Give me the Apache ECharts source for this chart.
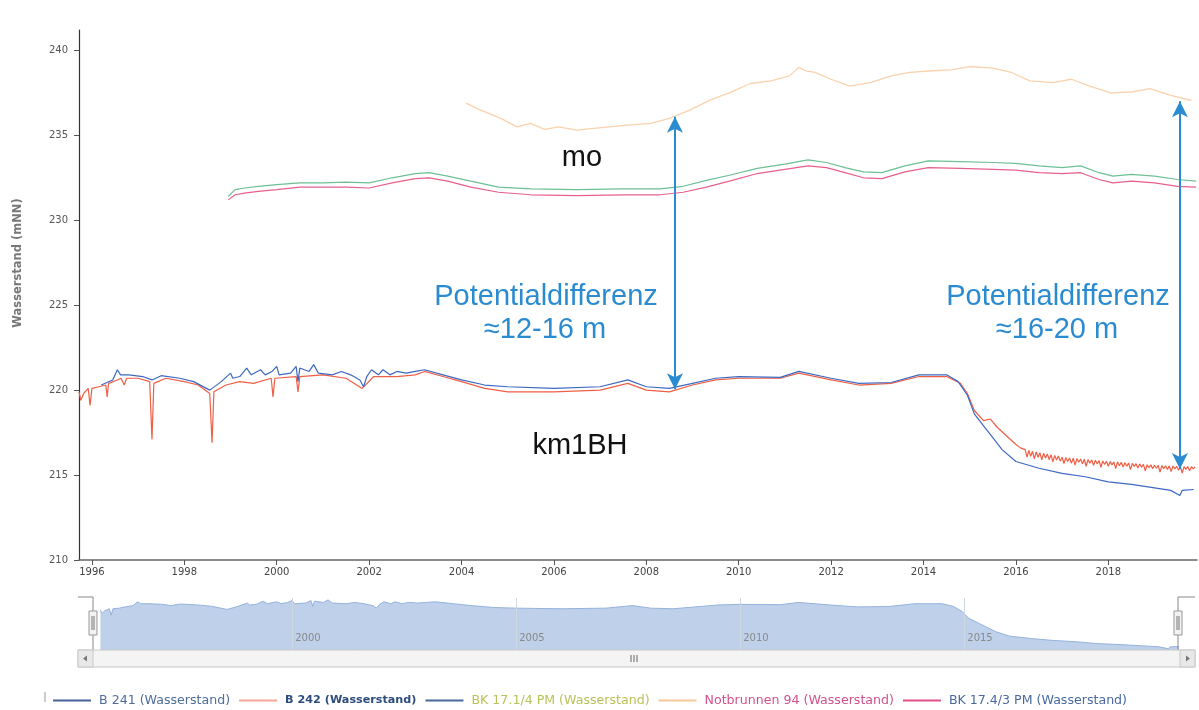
<!DOCTYPE html>
<html>
<head>
<meta charset="utf-8">
<script src="https://cdn.jsdelivr.net/npm/echarts@6/dist/echarts.min.js"></script>
<style>
html,body{margin:0;padding:0;background:#fff;}
#chart{width:1199px;height:710px;}
</style>
</head>
<body>
<div id="chart"></div>
<script>
// ---- tick labels ----
const xTicks = [1996,1998,2000,2002,2004,2006,2008,2010,2012,2014,2016,2018];
const yTicks = [210,215,220,225,230,235,240];
const navTicks = [2000,2005,2010,2015];

// ---- series names ----
const names = ['B 241 (Wasserstand)','B 242 (Wasserstand)','BK 17.1/4 PM (Wasserstand)','Notbrunnen 94 (Wasserstand)','BK 17.4/3 PM (Wasserstand)'];

// ---- B 241 (blue) [year, mNN] ----
const b241 = [
[1996.2,220.3],[1996.45,220.6],[1996.55,221.2],[1996.62,220.9],[1996.8,220.9],[1997.1,220.8],[1997.3,220.6],
[1997.5,220.85],[1997.9,220.7],[1998.2,220.5],[1998.55,220.0],[1998.8,220.5],[1999.0,221.0],[1999.05,220.7],
[1999.2,220.8],[1999.35,221.3],[1999.45,220.9],[1999.65,221.2],[1999.75,220.9],[1999.9,221.1],[2000.0,221.4],
[2000.05,220.9],[2000.3,221.0],[2000.42,221.4],[2000.46,220.5],[2000.5,221.3],[2000.7,221.1],[2000.8,221.5],
[2000.9,221.0],[2001.2,220.9],[2001.4,221.1],[2001.6,220.9],[2001.8,220.6],[2001.88,220.2],[2001.95,220.8],
[2002.05,221.2],[2002.2,220.9],[2002.3,221.2],[2002.45,220.9],[2002.6,221.1],[2002.8,221.0],[2003.0,221.1],
[2003.2,221.2],[2003.6,220.9],[2004.0,220.6],[2004.5,220.3],[2005.0,220.2],[2006.0,220.1],[2007.0,220.2],
[2007.6,220.6],[2008.0,220.2],[2008.5,220.1],[2009.0,220.4],[2009.5,220.7],[2010.0,220.8],[2010.9,220.75],
[2011.3,221.1],[2012.0,220.7],[2012.6,220.4],[2013.3,220.45],[2013.9,220.9],[2014.5,220.9],[2014.75,220.5],
[2014.95,219.7],[2015.1,218.6],[2015.3,217.9],[2015.5,217.2],[2015.7,216.5],[2016.0,215.8],[2016.5,215.4],
[2017.0,215.1],[2017.5,214.9],[2018.0,214.6],[2018.5,214.45],[2019.0,214.25],[2019.35,214.1],[2019.55,213.8],
[2019.6,214.1],[2019.85,214.15]
];

// ---- B 242 (red) [year, mNN] ----
const b242 = [
[1995.72,219.9],[1995.76,219.4],[1995.82,219.8],[1995.92,220.1],[1995.96,219.1],[1996.0,220.1],[1996.15,220.2],
[1996.3,220.3],[1996.33,219.6],[1996.36,220.4],[1996.55,220.6],[1996.63,220.7],[1996.7,220.3],[1996.75,220.7],
[1997.0,220.7],[1997.25,220.5],[1997.3,217.1],[1997.34,220.4],[1997.6,220.7],[1998.0,220.5],[1998.3,220.3],
[1998.55,219.8],[1998.6,216.9],[1998.64,219.9],[1998.9,220.3],[1999.2,220.5],[1999.5,220.4],[1999.88,220.7],
[1999.92,219.6],[1999.96,220.7],[2000.42,220.8],[2000.46,219.9],[2000.5,220.8],[2001.0,220.9],[2001.5,220.7],
[2001.85,220.1],[2002.1,220.8],[2002.6,220.8],[2003.0,220.9],[2003.2,221.1],[2003.6,220.8],[2004.0,220.5],
[2004.5,220.1],[2005.0,219.9],[2006.0,219.9],[2007.0,220.0],[2007.6,220.4],[2008.0,220.0],[2008.5,219.9],
[2009.0,220.3],[2009.5,220.6],[2010.0,220.7],[2010.9,220.7],[2011.3,221.0],[2012.0,220.6],[2012.6,220.3],
[2013.3,220.4],[2013.9,220.8],[2014.5,220.8],[2014.8,220.4],[2014.95,219.8],[2015.1,218.8],[2015.3,218.2],
[2015.45,218.3],[2015.6,217.8],[2015.8,217.3],[2016.0,216.8],[2016.1,216.6],
[2016.20,216.50],[2016.24,216.05],[2016.28,216.45],[2016.32,216.10],[2016.36,216.40],[2016.40,215.95],
[2016.44,216.36],[2016.48,216.05],[2016.52,216.32],[2016.56,215.90],[2016.60,216.28],[2016.64,216.00],
[2016.68,216.24],[2016.72,215.92],[2016.76,216.20],[2016.80,215.78],[2016.84,216.16],[2016.88,215.88],
[2016.92,216.12],[2016.96,215.82],[2017.00,216.05],[2017.04,215.68],[2017.08,216.03],[2017.12,215.80],
[2017.16,216.01],[2017.20,215.70],[2017.24,215.99],[2017.28,215.58],[2017.32,215.97],[2017.36,215.75],
[2017.40,215.95],[2017.44,215.66],[2017.48,215.93],[2017.52,215.52],[2017.56,215.91],[2017.60,215.70],
[2017.64,215.89],[2017.68,215.58],[2017.72,215.87],[2017.76,215.66],[2017.80,215.85],[2017.84,215.45],
[2017.88,215.83],[2017.92,215.62],[2017.96,215.81],[2018.00,215.52],[2018.04,215.79],[2018.08,215.60],
[2018.12,215.78],[2018.16,215.38],[2018.20,215.77],[2018.24,215.55],[2018.28,215.75],[2018.32,215.48],
[2018.36,215.73],[2018.40,215.52],[2018.44,215.71],[2018.48,215.32],[2018.52,215.69],[2018.56,215.50],
[2018.60,215.67],[2018.64,215.42],[2018.68,215.65],[2018.72,215.47],[2018.76,215.63],[2018.80,215.25],
[2018.84,215.61],[2018.88,215.44],[2018.92,215.60],[2018.96,215.37],[2019.00,215.58],[2019.04,215.40],
[2019.08,215.57],[2019.12,215.18],[2019.16,215.56],[2019.20,215.38],[2019.24,215.55],[2019.28,215.33],
[2019.32,215.54],[2019.36,215.20],[2019.40,215.53],[2019.44,215.36],[2019.48,215.52],[2019.52,215.28],
[2019.56,215.51],[2019.60,215.12],[2019.64,215.50],[2019.68,215.34],[2019.72,215.50],[2019.76,215.26],
[2019.80,215.49],[2019.84,215.36],[2019.88,215.48]
];

// ---- BK 17.1/4 PM (green) ----
const bk171 = [
[1998.95,231.4],[1999.1,231.8],[1999.3,231.9],[1999.6,232.0],[2000.0,232.1],[2000.5,232.2],[2001.0,232.2],
[2001.5,232.25],[2002.0,232.2],[2002.5,232.5],[2003.0,232.75],[2003.3,232.8],[2003.7,232.6],[2004.2,232.3],
[2004.8,231.95],[2005.5,231.85],[2006.5,231.8],[2007.5,231.85],[2008.3,231.85],[2008.8,232.0],[2009.3,232.35],
[2009.8,232.65],[2010.4,233.05],[2011.0,233.3],[2011.5,233.55],[2011.9,233.4],[2012.3,233.1],[2012.7,232.85],
[2013.1,232.8],[2013.6,233.2],[2014.1,233.5],[2014.8,233.45],[2015.5,233.4],[2016.0,233.35],[2016.5,233.2],
[2017.0,233.1],[2017.4,233.2],[2017.8,232.8],[2018.1,232.6],[2018.5,232.7],[2019.0,232.6],[2019.5,232.4],
[2019.9,232.3]
];

// ---- BK 17.4/3 PM (pink) ----
const bk174 = [
[1998.95,231.2],[1999.1,231.5],[1999.3,231.6],[1999.6,231.7],[2000.0,231.8],[2000.5,231.95],[2001.0,231.95],
[2001.5,231.95],[2002.0,231.9],[2002.5,232.2],[2003.0,232.45],[2003.3,232.5],[2003.7,232.3],[2004.2,231.95],
[2004.8,231.65],[2005.5,231.5],[2006.5,231.45],[2007.5,231.5],[2008.3,231.5],[2008.8,231.65],[2009.3,231.95],
[2009.8,232.3],[2010.4,232.75],[2011.0,233.0],[2011.5,233.2],[2011.9,233.1],[2012.3,232.8],[2012.7,232.5],
[2013.1,232.45],[2013.6,232.85],[2014.1,233.1],[2014.8,233.05],[2015.5,233.0],[2016.0,232.95],[2016.5,232.8],
[2017.0,232.75],[2017.4,232.8],[2017.8,232.4],[2018.1,232.2],[2018.5,232.3],[2019.0,232.2],[2019.5,232.0],
[2019.9,231.95]
];

// ---- Notbrunnen 94 (orange) ----
const nb94 = [
[2004.1,236.9],[2004.4,236.5],[2004.85,236.0],[2005.2,235.5],[2005.5,235.7],[2005.8,235.35],[2006.1,235.5],
[2006.5,235.3],[2006.8,235.4],[2007.2,235.5],[2007.6,235.6],[2008.1,235.7],[2008.5,236.0],[2008.95,236.5],
[2009.4,237.1],[2009.8,237.5],[2010.25,238.05],[2010.7,238.2],[2011.1,238.5],[2011.3,239.0],[2011.45,238.8],
[2011.65,238.7],[2012.0,238.3],[2012.4,237.9],[2012.85,238.1],[2013.3,238.5],[2013.7,238.7],[2014.2,238.8],
[2014.6,238.85],[2015.0,239.05],[2015.5,238.95],[2015.9,238.7],[2016.3,238.2],[2016.8,238.1],[2017.2,238.3],
[2017.6,237.9],[2018.05,237.5],[2018.5,237.55],[2018.9,237.75],[2019.35,237.35],[2019.8,237.05]
];

// ---- annotation arrows: [year, from, to] ----
const arrows = [[2008.62,236.1,220.05],[2019.55,237.0,215.35]];

const navData = b242.filter(p => p[0] < b241[0][0]).concat(b241);

const chart = echarts.init(document.getElementById('chart'));
const FONT = 'DejaVu Sans';
const annBlue = '#2b8bd0';
const annFont = '29px "Liberation Sans"';

const option = {
  animation: false,
  backgroundColor: '#fff',
  grid: [
    {left: 79, right: 2, top: 30, bottom: 150},
    {left: 95, right: 21, top: 598, height: 52}
  ],
  xAxis: [
    {type: 'value', gridIndex: 0, min: 1995.72, max: 2019.92,
     axisLine: {lineStyle: {color: '#666', width: 1.5}},
     axisTick: {customValues: xTicks, length: 5, lineStyle: {color: '#555'}},
     axisLabel: {customValues: xTicks, color: '#444', fontSize: 10, fontFamily: FONT, margin: 7, formatter: v => String(v)},
     splitLine: {show: false}},
    {type: 'value', gridIndex: 1, min: 1995.6, max: 2019.77, z: 5,
     axisLine: {show: false},
     axisTick: {customValues: navTicks, inside: true, length: 52, lineStyle: {color: '#cfd7e3'}},
     axisLabel: {customValues: navTicks, inside: true, align: 'left', padding: [0,0,0,3], margin: 7, color: '#8a8a8a', fontSize: 10, fontFamily: FONT, formatter: v => String(v)},
     splitLine: {show: false}}
  ],
  yAxis: [
    {type: 'value', gridIndex: 0, min: 210, max: 241.2,
     axisLine: {show: true, lineStyle: {color: '#333', width: 1.2}},
     axisTick: {show: true, customValues: yTicks, length: 5, lineStyle: {color: '#555'}},
     axisLabel: {customValues: yTicks, color: '#555', fontSize: 10, fontFamily: FONT, margin: 11},
     splitLine: {show: false}},
    {type: 'value', gridIndex: 1, min: 213.6, max: 221.8, show: false}
  ],
  legend: {
    left: 48, top: 689, icon: 'rect', itemWidth: 38, itemHeight: 2, itemGap: 9,
    textStyle: {fontFamily: FONT, fontSize: 12.6, padding: [0,0,0,3]},
    data: [
      {name: names[0], itemStyle: {color: '#46619a'}, textStyle: {color: '#4f6d9c'}},
      {name: names[1], itemStyle: {color: '#f4a596'}, textStyle: {color: '#2e4d7c', fontWeight: 'bold', fontSize: 11.2}},
      {name: names[2], itemStyle: {color: '#4a6a9a'}, textStyle: {color: '#b9c25a'}},
      {name: names[3], itemStyle: {color: '#f8c89a'}, textStyle: {color: '#d2528c'}},
      {name: names[4], itemStyle: {color: '#e0508a'}, textStyle: {color: '#4a6aa0'}}
    ]
  },
  series: [
    {name: names[1], type: 'line', data: b242, showSymbol: false, xAxisIndex: 0, yAxisIndex: 0,
     lineStyle: {color: '#ef5f45', width: 1.2}, itemStyle: {color: '#ef5f45'}},
    {name: names[0], type: 'line', data: b241, showSymbol: false, xAxisIndex: 0, yAxisIndex: 0,
     lineStyle: {color: '#3d69c0', width: 1.2}, itemStyle: {color: '#3d69c0'}},
    {name: names[2], type: 'line', data: bk171, showSymbol: false, xAxisIndex: 0, yAxisIndex: 0,
     lineStyle: {color: '#6cc094', width: 1.2}, itemStyle: {color: '#6cc094'}},
    {name: names[3], type: 'line', data: nb94, showSymbol: false, xAxisIndex: 0, yAxisIndex: 0,
     lineStyle: {color: '#fad2ad', width: 1.3}, itemStyle: {color: '#fad2ad'},
     markLine: {silent: true, symbol: ['arrow','arrow'], symbolSize: [12, 16], label: {show: false},
       lineStyle: {color: annBlue, width: 2, type: 'solid'},
       data: arrows.map(a => [{coord: [a[0], a[1]]}, {coord: [a[0], a[2]]}])}},
    {name: names[4], type: 'line', data: bk174, showSymbol: false, xAxisIndex: 0, yAxisIndex: 0,
     lineStyle: {color: '#e8608a', width: 1.2}, itemStyle: {color: '#e8608a'}},
    {name: 'navigator', type: 'line', data: navData, showSymbol: false, xAxisIndex: 1, yAxisIndex: 1,
     lineStyle: {color: '#94b2dc', width: 1}, areaStyle: {color: '#bfd0ea', opacity: 1}, z: 1}
  ],
  graphic: [
    {type: 'text', x: 18, y: 263, rotation: Math.PI / 2,
     style: {text: 'Wasserstand (mNN)', font: 'bold 11.5px "DejaVu Sans"', fill: '#777', align: 'center', verticalAlign: 'middle'}},
    {type: 'text', x: 582, y: 158, style: {text: 'mo', font: annFont, fill: '#111', align: 'center', verticalAlign: 'middle'}},
    {type: 'text', x: 580, y: 446, style: {text: 'km1BH', font: annFont, fill: '#111', align: 'center', verticalAlign: 'middle'}},
    {type: 'text', x: 546, y: 297, style: {text: 'Potentialdifferenz', font: annFont, fill: annBlue, align: 'center', verticalAlign: 'middle'}},
    {type: 'text', x: 545, y: 330, style: {text: '≈12-16 m', font: annFont, fill: annBlue, align: 'center', verticalAlign: 'middle'}},
    {type: 'text', x: 1058, y: 297, style: {text: 'Potentialdifferenz', font: annFont, fill: annBlue, align: 'center', verticalAlign: 'middle'}},
    {type: 'text', x: 1057, y: 330, style: {text: '≈16-20 m', font: annFont, fill: annBlue, align: 'center', verticalAlign: 'middle'}},
    // navigator outline & handles
    {type: 'polyline', shape: {points: [[78,597],[93,597],[93,650]]}, style: {stroke: '#888', lineWidth: 1, fill: null}, z: 10},
    {type: 'polyline', shape: {points: [[1195,597],[1178,597],[1178,650]]}, style: {stroke: '#888', lineWidth: 1, fill: null}, z: 10},
    {type: 'rect', shape: {x: 89, y: 611, width: 8, height: 24}, style: {fill: '#f2f2f2', stroke: '#999', lineWidth: 1}, z: 11},
    {type: 'line', shape: {x1: 92, y1: 616, x2: 92, y2: 630}, style: {stroke: '#777', lineWidth: 1}, z: 12},
    {type: 'line', shape: {x1: 94, y1: 616, x2: 94, y2: 630}, style: {stroke: '#777', lineWidth: 1}, z: 12},
    {type: 'rect', shape: {x: 1174, y: 611, width: 8, height: 24}, style: {fill: '#f2f2f2', stroke: '#999', lineWidth: 1}, z: 11},
    {type: 'line', shape: {x1: 1177, y1: 616, x2: 1177, y2: 630}, style: {stroke: '#777', lineWidth: 1}, z: 12},
    {type: 'line', shape: {x1: 1179, y1: 616, x2: 1179, y2: 630}, style: {stroke: '#777', lineWidth: 1}, z: 12},
    // scrollbar
    {type: 'rect', shape: {x: 78, y: 650, width: 1117, height: 17}, style: {fill: '#f4f4f4', stroke: '#c8c8c8', lineWidth: 1}, z: 10},
    {type: 'rect', shape: {x: 78, y: 650, width: 15, height: 17}, style: {fill: '#e8e8e8', stroke: '#c8c8c8', lineWidth: 1}, z: 11},
    {type: 'rect', shape: {x: 1180, y: 650, width: 15, height: 17}, style: {fill: '#e8e8e8', stroke: '#c8c8c8', lineWidth: 1}, z: 11},
    {type: 'polygon', shape: {points: [[83,658.5],[87,655.5],[87,661.5]]}, style: {fill: '#777'}, z: 12},
    {type: 'polygon', shape: {points: [[1190,658.5],[1186,655.5],[1186,661.5]]}, style: {fill: '#777'}, z: 12},
    {type: 'line', shape: {x1: 631, y1: 655, x2: 631, y2: 662}, style: {stroke: '#666', lineWidth: 1}, z: 12},
    {type: 'line', shape: {x1: 634, y1: 655, x2: 634, y2: 662}, style: {stroke: '#666', lineWidth: 1}, z: 12},
    {type: 'line', shape: {x1: 637, y1: 655, x2: 637, y2: 662}, style: {stroke: '#666', lineWidth: 1}, z: 12},
    {type: 'line', shape: {x1: 45, y1: 692, x2: 45, y2: 702}, style: {stroke: '#999', lineWidth: 1}}
  ]
};
chart.setOption(option);
</script>
</body>
</html>
